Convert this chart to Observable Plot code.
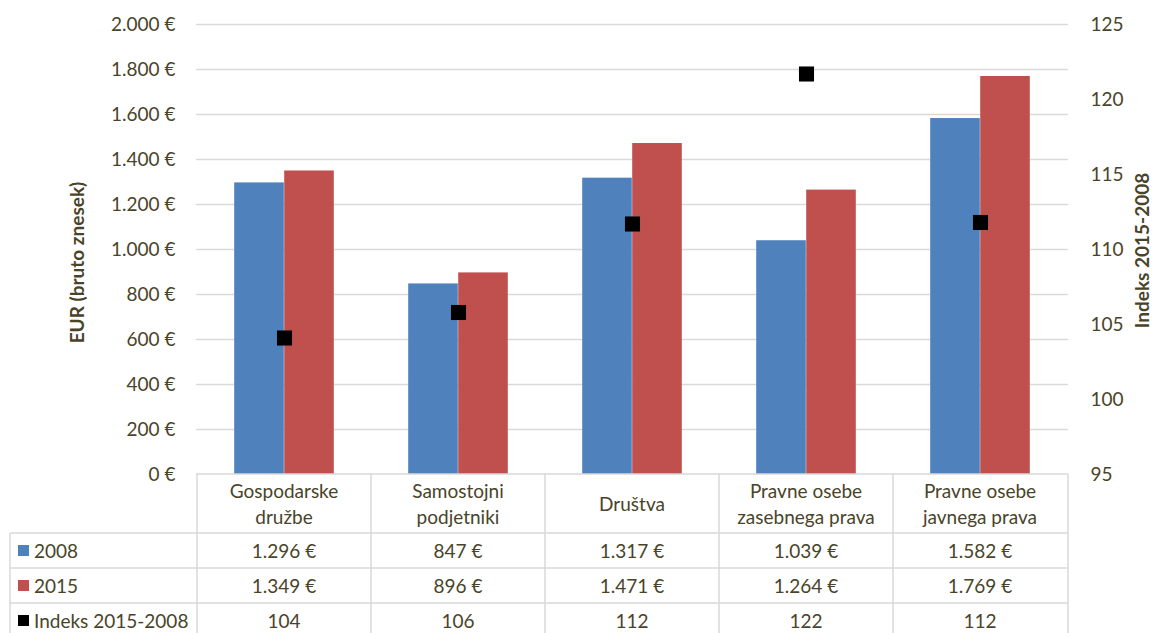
<!DOCTYPE html>
<html>
<head>
<meta charset="utf-8">
<script src="https://cdn.jsdelivr.net/npm/d3@7"></script>
<script src="https://cdn.jsdelivr.net/npm/@observablehq/plot@0.6"></script>
<style>
  html, body { margin: 0; padding: 0; background: #fff; overflow: hidden; }
  #chart svg { display: block; }
</style>
</head>
<body>
<div id="chart"></div>
<script>
// ---- data ----
const categories = ["Gospodarske\ndružbe", "Samostojni\npodjetniki", "Društva", "Pravne osebe\nzasebnega prava", "Pravne osebe\njavnega prava"];
const values2008 = [1296, 847, 1317, 1039, 1582];
const values2015 = [1349, 896, 1471, 1264, 1769];
const indexValues = [104.1, 105.8, 111.7, 121.7, 111.8];
const indexTableLabels = ["104", "106", "112", "122", "112"];
const eurTicks = [0, 200, 400, 600, 800, 1000, 1200, 1400, 1600, 1800, 2000];
const indexTicks = [95, 100, 105, 110, 115, 120, 125];
const seriesNames = ["2008", "2015", "Indeks 2015-2008"];
const colors = ["#4F81BD", "#C0504D", "#000000"];

// ---- helpers ----
const W = 1153, H = 633;
const mL = 196, mR = 85, mT = 24, mB = 159;
const textColor = "#494429";
const gridColor = "#d9d9d9";
const font = "Lato, 'Open Sans', sans-serif";
const fs = 19;
const loc = d3.formatLocale({decimal: ",", thousands: ".", grouping: [3], currency: ["", " €"]});
const eur = v => loc.format(",")(v) + " €";
const eurMax = 2000, idxMin = 95, idxMax = 125;
const idxToEur = v => (v - idxMin) / (idxMax - idxMin) * eurMax;

const rows = categories.map((c, i) => ({cat: c, v2008: values2008[i], v2015: values2015[i], idx: indexValues[i], idxLabel: indexTableLabels[i]}));

const bw = (W - mL - mR) / categories.length;
const barW = 50;
const outer = (bw - 2 * barW) / 2;

// table mark drawn through the x band scale
function tableMark(index, scales, values, dims) {
  const x = scales.x;
  const band = x.bandwidth();
  const top = dims.height - dims.marginBottom;
  const left = dims.marginLeft, right = dims.width - dims.marginRight;
  const headerH = 59, rowH = 35, labelLeft = 10;
  const bottom = top + headerH + rowH * 3;
  const g = d3.create("svg:g")
    .attr("font-family", font).attr("font-size", fs).attr("fill", textColor);
  const lines = g.append("g").attr("stroke", gridColor).attr("stroke-width", 1.5).attr("fill", "none");
  lines.append("line").attr("x1", left).attr("x2", right).attr("y1", top).attr("y2", top);
  for (let r = 0; r < 3; r++) {
    const yy = top + headerH + r * rowH;
    lines.append("line").attr("x1", labelLeft).attr("x2", right).attr("y1", yy).attr("y2", yy);
  }
  categories.forEach(c => {
    const x0 = x(c);
    lines.append("line").attr("x1", x0).attr("x2", x0).attr("y1", top).attr("y2", bottom);
  });
  lines.append("line").attr("x1", right).attr("x2", right).attr("y1", top).attr("y2", bottom);
  lines.append("line").attr("x1", labelLeft).attr("x2", labelLeft).attr("y1", top + headerH).attr("y2", bottom);

  // header
  categories.forEach(c => {
    const cx = x(c) + band / 2;
    const parts = c.split("\n");
    const lh = 26;
    parts.forEach((p, k) => {
      g.append("text").attr("x", cx).attr("y", top + headerH / 2 + (k - (parts.length - 1) / 2) * lh)
        .attr("text-anchor", "middle").attr("dominant-baseline", "central").text(p);
    });
  });
  // rows
  const rowTexts = [
    rows.map(d => eur(d.v2008)),
    rows.map(d => eur(d.v2015)),
    rows.map(d => d.idxLabel)
  ];
  seriesNames.forEach((s, r) => {
    const cy = top + headerH + r * rowH + rowH / 2;
    g.append("rect").attr("x", labelLeft + 8).attr("y", cy - 5.5).attr("width", 11).attr("height", 11).attr("fill", colors[r]);
    g.append("text").attr("x", labelLeft + 24).attr("y", cy).attr("text-anchor", "start").attr("dominant-baseline", "central").text(s);
    categories.forEach((c, i) => {
      g.append("text").attr("x", x(c) + band / 2).attr("y", cy)
        .attr("text-anchor", "middle").attr("dominant-baseline", "central").text(rowTexts[r][i]);
    });
  });
  return g.node();
}

const plot = Plot.plot({
  width: W,
  height: H,
  marginLeft: mL,
  marginRight: mR,
  marginTop: mT,
  marginBottom: mB,
  style: {fontFamily: font, fontSize: fs + "px", color: textColor, background: "#fff"},
  x: {type: "band", domain: categories, padding: 0, axis: null},
  y: {domain: [0, eurMax], ticks: eurTicks, tickFormat: eur, tickSize: 0, tickPadding: 21, label: null},
  marks: [
    Plot.ruleY(eurTicks.filter(d => d > 0), {stroke: gridColor, strokeWidth: 1.5}),
    Plot.barY(rows, {x: "cat", y: "v2008", fill: colors[0], insetLeft: outer, insetRight: outer + barW}),
    Plot.barY(rows, {x: "cat", y: "v2015", fill: colors[1], insetLeft: outer + barW, insetRight: outer}),
    Plot.dot(rows, {x: "cat", y: d => idxToEur(d.idx), symbol: "square", r: 8.5, fill: colors[2], stroke: null}),
    Plot.text(indexTicks, {y: d => idxToEur(d), text: d => String(d), frameAnchor: "right", textAnchor: "start", dx: 22, fill: textColor}),
    Plot.text(["EUR (bruto znesek)"], {frameAnchor: "left", textAnchor: "middle", rotate: -90, dx: -119, dy: 13, fontWeight: "bold", fill: textColor}),
    Plot.text(["Indeks 2015-2008"], {frameAnchor: "right", textAnchor: "middle", rotate: -90, dx: 74, dy: 1, fontWeight: "bold", fill: textColor}),
    tableMark
  ]
});
document.getElementById("chart").appendChild(plot);
</script>
</body>
</html>
